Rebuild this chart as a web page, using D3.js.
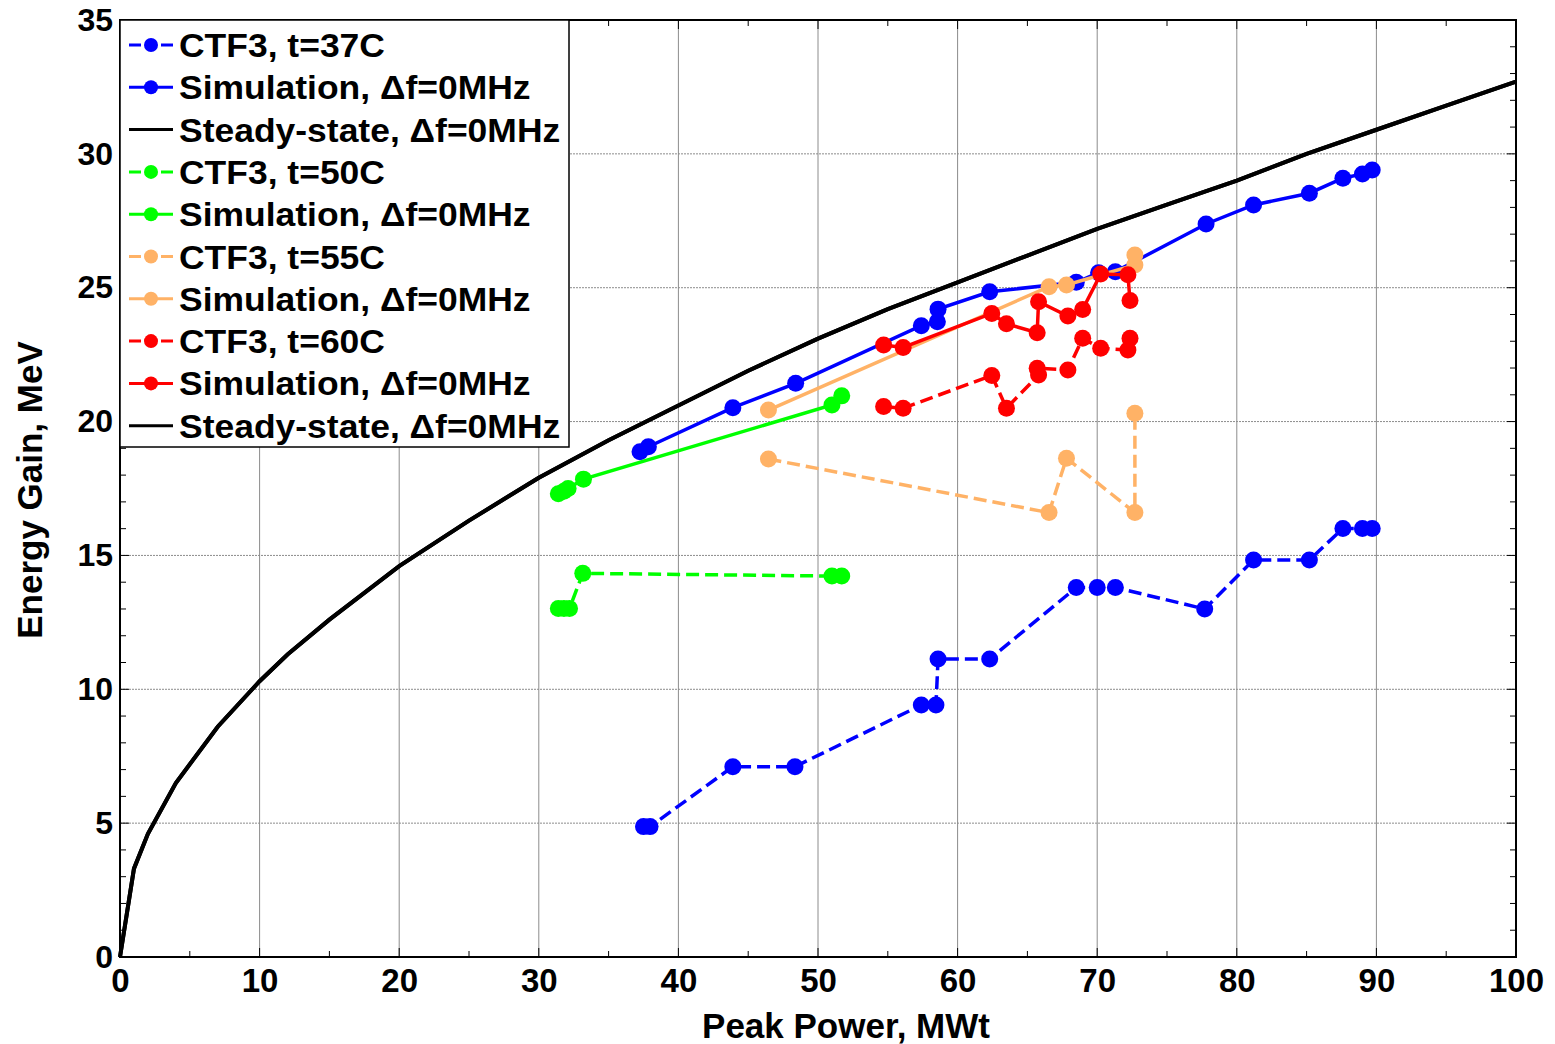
<!DOCTYPE html>
<html>
<head>
<meta charset="utf-8">
<script src="https://cdn.jsdelivr.net/npm/d3@7"></script>
<style>
  body { margin: 0; background: white; }
  text { font-family: "Liberation Sans", Arial, sans-serif; font-weight: bold; }
</style>
</head>
<body>
<div id="energy_gain_plot"></div>
<script>
// ---- data ----
var xTicks = [0, 10, 20, 30, 40, 50, 60, 70, 80, 90, 100];
var yTicks = [0, 5, 10, 15, 20, 25, 30, 35];

// steady-state curve
var steadyP = [0, 1, 2, 4, 7, 10, 12, 15, 20, 25, 30, 35, 40, 45, 50, 55, 60, 65, 70, 75, 80, 85, 90, 95, 100];
var steadyE = [0, 3.3, 4.6, 6.5, 8.6, 10.3, 11.3, 12.6, 14.6, 16.3, 17.9, 19.3, 20.6, 21.9, 23.1, 24.2, 25.2, 26.2, 27.2, 28.1, 29.0, 30.0, 30.9, 31.8, 32.7];

// t=37C
var ctf37P = [37.5, 37.97, 43.9, 48.35, 57.4, 58.45, 58.6, 62.3, 68.5, 70.0, 71.3, 77.7, 81.2, 85.2, 87.6, 89.0, 89.7];
var ctf37E = [4.87, 4.87, 7.11, 7.11, 9.41, 9.41, 11.13, 11.13, 13.8, 13.8, 13.8, 13.0, 14.83, 14.83, 16.01, 16.01, 16.01];
var sim37P = [37.25, 37.85, 43.9, 48.4, 57.4, 58.55, 58.6, 62.3, 68.5, 70.1, 71.3, 77.8, 81.2, 85.2, 87.6, 89.0, 89.7];
var sim37E = [18.87, 19.06, 20.52, 21.43, 23.58, 23.73, 24.2, 24.85, 25.2, 25.56, 25.6, 27.38, 28.09, 28.53, 29.09, 29.25, 29.4];

// t=50C
var ctf50P = [31.4, 31.8, 32.2, 33.15, 51.0, 51.7];
var ctf50E = [13.02, 13.02, 13.02, 14.33, 14.23, 14.23];
var sim50P = [31.4, 31.8, 32.1, 33.2, 51.0, 51.7];
var sim50E = [17.3, 17.4, 17.5, 17.85, 20.62, 20.96];

// t=55C
var ctf55P = [46.45, 66.55, 67.8, 72.7, 72.7];
var ctf55E = [18.6, 16.6, 18.63, 16.6, 20.31];
var sim55P = [46.45, 66.55, 67.8, 72.7, 72.7];
var sim55E = [20.43, 25.04, 25.1, 25.85, 26.22];

// t=60C
var ctf60P = [54.7, 56.1, 62.45, 63.5, 65.8, 65.7, 67.9, 68.96, 70.25, 72.2, 72.35];
var ctf60E = [20.56, 20.5, 21.72, 20.5, 21.74, 21.99, 21.93, 23.11, 22.74, 22.67, 23.11];
var sim60P = [54.7, 56.1, 62.45, 63.5, 65.7, 65.8, 67.9, 68.96, 70.25, 72.2, 72.35];
var sim60E = [22.86, 22.77, 24.04, 23.65, 23.32, 24.48, 23.94, 24.19, 25.51, 25.48, 24.52];

var legendLabels = ["CTF3, t=37C", "Simulation, \u0394f=0MHz", "Steady-state, \u0394f=0MHz",
                    "CTF3, t=50C", "Simulation, \u0394f=0MHz",
                    "CTF3, t=55C", "Simulation, \u0394f=0MHz",
                    "CTF3, t=60C", "Simulation, \u0394f=0MHz", "Steady-state, \u0394f=0MHz"];

function zip(xs, ys) {
    return xs.map(function(v, i) { return {p: v, e: ys[i]}; });
}

var blue = "#0000ff", green = "#00ff00", orange = "#ffb266", red = "#ff0000";

// series in drawing (and legend) order
var series = [
    {data: zip(ctf37P, ctf37E), color: blue, dashed: true, dots: true},
    {data: zip(sim37P, sim37E), color: blue, dashed: false, dots: true},
    {data: zip(steadyP, steadyE), color: "black", dashed: false, dots: false},
    {data: zip(ctf50P, ctf50E), color: green, dashed: true, dots: true},
    {data: zip(sim50P, sim50E), color: green, dashed: false, dots: true},
    {data: zip(ctf55P, ctf55E), color: orange, dashed: true, dots: true},
    {data: zip(sim55P, sim55E), color: orange, dashed: false, dots: true},
    {data: zip(ctf60P, ctf60E), color: red, dashed: true, dots: true},
    {data: zip(sim60P, sim60E), color: red, dashed: false, dots: true},
    {data: zip(steadyP, steadyE), color: "black", dashed: false, dots: false}
];

var margin = {top: 20, right: 39, bottom: 87, left: 120};
var width = 1555 - margin.left - margin.right;
var height = 1044 - margin.top - margin.bottom;

var svg = d3.select("#energy_gain_plot").append("svg")
    .attr("width", 1555)
    .attr("height", 1044)
  .append("g")
    .attr("transform", "translate(" + margin.left + "," + margin.top + ")");

var x = d3.scaleLinear().domain([0, 100]).range([0, width]);
var y = d3.scaleLinear().domain([0, 35]).range([height, 0]);

// gridlines
svg.append("g")
    .selectAll("line")
    .data(xTicks.slice(1, -1))
  .enter().append("line")
    .attr("x1", function(d) { return x(d); })
    .attr("x2", function(d) { return x(d); })
    .attr("y1", 0).attr("y2", height)
    .style("stroke", "#8c8c8c")
    .style("stroke-width", 1);

svg.append("g")
    .selectAll("line")
    .data(yTicks.slice(1, -1))
  .enter().append("line")
    .attr("x1", 0).attr("x2", width)
    .attr("y1", function(d) { return y(d); })
    .attr("y2", function(d) { return y(d); })
    .style("stroke", "#8c8c8c")
    .style("stroke-width", 1)
    .style("stroke-dasharray", "2,1");

// minor / major inward ticks on all four sides
var xMinor = d3.range(0, 101, 5);
var yMinor = d3.range(0, 36, 1);
var tickG = svg.append("g").style("stroke", "black").style("stroke-width", 1);
xMinor.forEach(function(v) {
    var len = (v % 10 === 0) ? 9 : 6;
    tickG.append("line").attr("x1", x(v)).attr("x2", x(v)).attr("y1", height).attr("y2", height - len);
    tickG.append("line").attr("x1", x(v)).attr("x2", x(v)).attr("y1", 0).attr("y2", len);
});
yMinor.forEach(function(v) {
    var len = (v % 5 === 0) ? 9 : 6;
    tickG.append("line").attr("x1", 0).attr("x2", len).attr("y1", y(v)).attr("y2", y(v));
    tickG.append("line").attr("x1", width).attr("x2", width - len).attr("y1", y(v)).attr("y2", y(v));
});

// the lines and markers
var valueline = d3.line()
    .x(function(d) { return x(d.p); })
    .y(function(d) { return y(d.e); });

series.forEach(function(s) {
    svg.append("path")
        .datum(s.data)
        .attr("d", valueline)
        .style("fill", "none")
        .style("stroke", s.color)
        .style("stroke-width", s.dots ? 3.5 : 4)
        .style("stroke-dasharray", s.dashed ? "13,6" : null);
    if (s.dots) {
        svg.append("g").selectAll("circle")
            .data(s.data)
          .enter().append("circle")
            .attr("cx", function(d) { return x(d.p); })
            .attr("cy", function(d) { return y(d.e); })
            .attr("r", 8.5)
            .style("fill", s.color);
    }
});

// frame
svg.append("rect")
    .attr("width", width).attr("height", height)
    .style("fill", "none")
    .style("stroke", "black")
    .style("stroke-width", 2);

// tick labels
svg.append("g")
    .attr("transform", "translate(0," + height + ")")
    .call(d3.axisBottom(x).tickValues(xTicks).tickSize(0).tickPadding(9))
    .call(function(g) { g.select(".domain").remove(); })
    .selectAll("text")
    .style("font-size", "33px")
    .style("font-family", "'Liberation Sans', Arial, sans-serif")
    .style("font-weight", "bold")
    .attr("dy", "0.78em");

svg.append("g")
    .call(d3.axisLeft(y).tickValues(yTicks).tickSize(0).tickPadding(7))
    .call(function(g) { g.select(".domain").remove(); })
    .selectAll("text")
    .style("font-size", "32px")
    .style("font-family", "'Liberation Sans', Arial, sans-serif")
    .style("font-weight", "bold");

// axis titles
svg.append("text")
    .attr("x", 846 - margin.left)
    .attr("y", height + 81)
    .style("text-anchor", "middle")
    .style("font-size", "35px")
    .text("Peak Power, MWt");

svg.append("text")
    .attr("transform", "rotate(-90)")
    .attr("x", -(490 - margin.top))
    .attr("y", -78)
    .style("text-anchor", "middle")
    .style("font-size", "35px")
    .text("Energy Gain, MeV");

// legend
var legendW = 449, legendH = 427, rowH = 42.3;
var legend = svg.append("g");
legend.append("rect")
    .attr("width", legendW).attr("height", legendH)
    .style("fill", "white")
    .style("stroke", "black")
    .style("stroke-width", 1.5);

series.forEach(function(s, i) {
    var cy = 25 + i * rowH;
    legend.append("line")
        .attr("x1", 9).attr("x2", 53)
        .attr("y1", cy).attr("y2", cy)
        .style("stroke", s.color)
        .style("stroke-width", 3)
        .style("stroke-dasharray", s.dashed ? "12,4" : null);
    if (s.dots) {
        legend.append("circle")
            .attr("cx", 31).attr("cy", cy).attr("r", 7)
            .style("fill", s.color);
    }
    legend.append("text")
        .attr("transform", "translate(59," + (cy + 12) + ") scale(1.075,1)")
        .style("font-size", "33px")
        .text(legendLabels[i]);
});
</script>
</body>
</html>
